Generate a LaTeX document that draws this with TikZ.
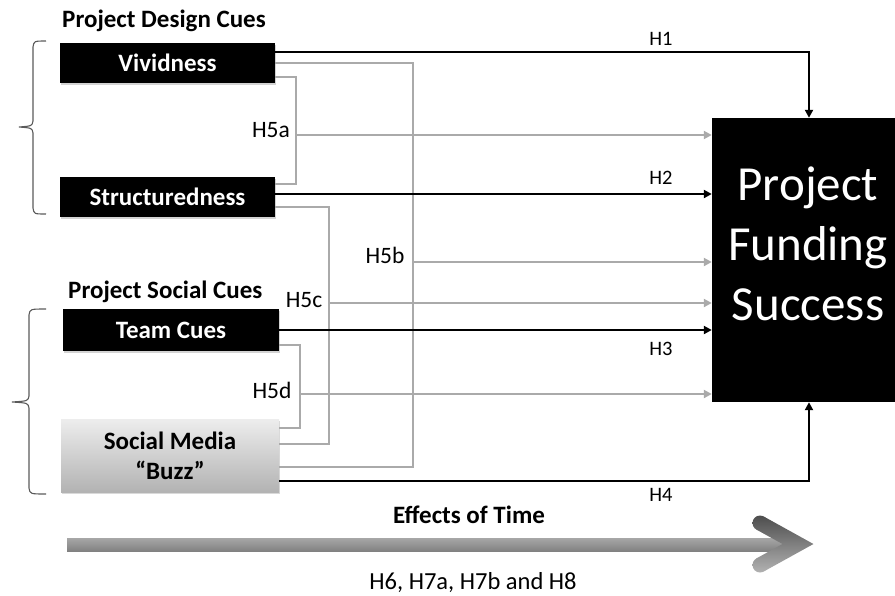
\documentclass[tikz,border=0pt]{standalone}
\usepackage{fontspec}
\setmainfont{Carlito}
\usetikzlibrary{arrows.meta,shadows,calc}
\definecolor{lg}{RGB}{170,170,170}
\definecolor{bracec}{RGB}{90,90,90}
\tikzset{
  cue/.style={fill=black,text=white,font=\bfseries\fontsize{25}{29}\selectfont,
    minimum height=40pt,inner sep=0pt,
    drop shadow={shadow xshift=1pt,shadow yshift=-2pt,opacity=0.35}},
  blk/.style={line width=2.6pt,black},
  gry/.style={line width=2.6pt,lg},
  blkarr/.style={blk,-{Triangle[length=8pt,width=8pt]}},
  gryarr/.style={gry,-{Triangle[length=8pt,width=8pt]}},
  hlab/.style={font=\fontsize{20.5}{24}\selectfont,anchor=base,inner sep=0pt},
  hfive/.style={font=\fontsize{23.5}{27}\selectfont,anchor=base,inner sep=0pt},
  head/.style={font=\bfseries\fontsize{25}{29}\selectfont,anchor=base west,inner sep=0pt},
  bracestyle/.style={line width=1.1pt,bracec}
}
\begin{document}
\begin{tikzpicture}[x=1pt,y=1pt]
\useasboundingbox (0,0) rectangle (895,-595);

% headings
\node[head] (pdc) at (62,-27) {Project Design Cues};
\node[head] (psc) at (68,-298) {Project Social Cues};

% braces
\draw[bracestyle] (46,-41) .. controls (34,-41) .. (33,-47) -- (33,-121)
  .. controls (32,-126) .. (19,-127) .. controls (32,-128) .. (33,-133)
  -- (33,-208) .. controls (34,-214) .. (46,-214);
\draw[bracestyle] (46,-309) .. controls (30,-309) .. (29,-315) -- (29,-396)
  .. controls (28,-401) .. (12,-402) .. controls (28,-403) .. (29,-408)
  -- (29,-488) .. controls (30,-494) .. (46,-494);

% cue boxes
\node[cue,minimum width=215pt] (viv) at (167.5,-63) {Vividness};
\node[cue,minimum width=215pt] (str) at (167.5,-197) {Structuredness};
\node[cue,minimum width=216pt,minimum height=42pt] (team) at (171,-330) {Team Cues};
\node[top color=black!7,bottom color=black!30,minimum width=218pt,minimum height=73pt,
  inner sep=0pt,align=center,font=\bfseries\fontsize{25}{30}\selectfont,
  drop shadow={shadow xshift=1pt,shadow yshift=-2pt,opacity=0.3}] (soc) at (170,-455.5)
  {Social Media\\“Buzz”};

% outcome box
\node[fill=black,minimum width=183pt,minimum height=284pt,inner sep=0pt] (fs) at (803.5,-260) {};
\node[text=white,align=center,font=\fontsize{49}{60}\selectfont,inner sep=0pt] (fst) at (808,-244)
  {Project\\Funding\\Success};

% junction coordinates of the moderation brackets
\coordinate (a5) at (296,-135);
\coordinate (b5) at (413,-262);
\coordinate (c5) at (329,-303);
\coordinate (d5) at (300,-394);

% gray moderation lines
\draw[gry] ([yshift=-14pt]viv.east) -| (a5) |- ([yshift=13pt]str.east);
\draw[gryarr] (a5) -- (a5 -| fs.west);
\draw[gry] (viv.east) -| (b5) |- ([yshift=-11.5pt]soc.east);
\draw[gryarr] (b5) -- (b5 -| fs.west);
\draw[gry] ([yshift=-10pt]str.east) -| (c5) |- ([yshift=11.5pt]soc.east);
\draw[gryarr] (c5) -- (c5 -| fs.west);
\draw[gry] ([yshift=-15pt]team.east) -| (d5) |- ([yshift=27.5pt]soc.east);
\draw[gryarr] (d5) -- (d5 -| fs.west);

% black direct effects
\draw[blkarr] ([yshift=11pt]viv.east) -| ([xshift=5.5pt]fs.north);
\coordinate (h2s) at ([yshift=3pt]str.east);
\draw[blkarr] (h2s) -- (h2s -| fs.west);
\draw[blkarr] (team.east) -- (team.east -| fs.west);
\draw[blkarr] ([yshift=-25.5pt]soc.east) -| ([xshift=5.5pt]fs.south);

% labels
\node[hlab] (lh1) at (661,-45) {H1};
\node[hlab] (lh2) at (661,-184) {H2};
\node[hlab] (lh3) at (661,-355) {H3};
\node[hlab] (lh4) at (661,-501) {H4};
\node[hfive] (l5a) at (271,-137) {H5a};
\node[hfive] (l5b) at (385,-263) {H5b};
\node[hfive] (l5c) at (304,-307) {H5c};
\node[hfive] (l5d) at (272,-398) {H5d};

% time arrow
\shade[top color=black!35,bottom color=black!50] (67,-538.5) rectangle (785,-551.5);
\begin{scope}
  \clip (756.37,-529.56) -- (763.63,-516.44) -- (813.45,-544) -- (763.63,-571.56)
    -- (756.37,-558.44) -- (782.47,-544) -- cycle;
  \shade[top color=black!72,bottom color=black!28] (748,-512) rectangle (822,-576);
\end{scope}
\begin{scope}
  \clip (760,-523) circle (7.5pt);
  \shade[top color=black!72,bottom color=black!28] (748,-512) rectangle (822,-576);
\end{scope}
\begin{scope}
  \clip (760,-565) circle (7.5pt);
  \shade[top color=black!72,bottom color=black!28] (748,-512) rectangle (822,-576);
\end{scope}
\node[font=\bfseries\fontsize{25}{29}\selectfont,anchor=base,inner sep=0pt] (eot) at (469,-523) {Effects of Time};
\node[font=\fontsize{24.5}{29}\selectfont,anchor=base,inner sep=0pt] (hyp) at (473,-589) {H6, H7a, H7b and H8};
\end{tikzpicture}
\end{document}
